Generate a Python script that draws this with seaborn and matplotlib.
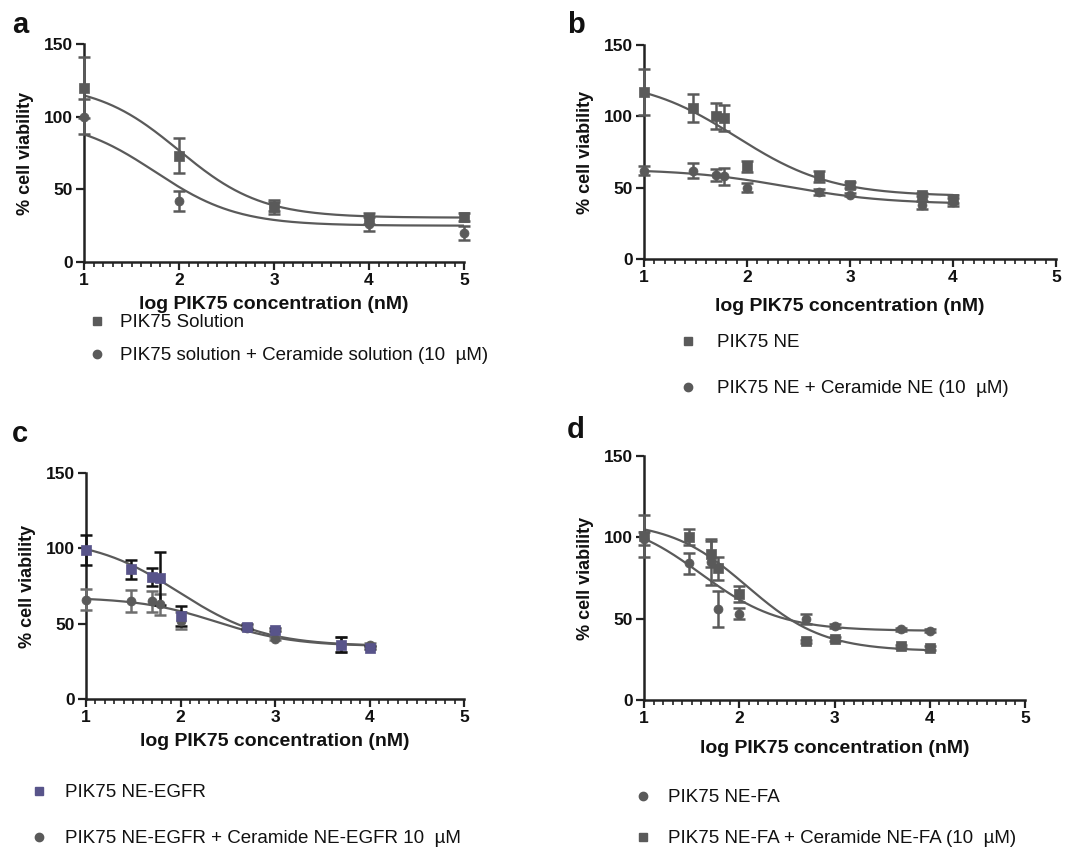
import numpy as np
import pandas as pd
import matplotlib
matplotlib.use("Agg")
import matplotlib.pyplot as plt
from matplotlib.ticker import MultipleLocator
from matplotlib.lines import Line2D
import seaborn as sns

sns.set_theme(style="ticks")
plt.rcParams['font.family'] = ['Liberation Sans', 'DejaVu Sans']

# ---------------- data ----------------
x_a = [1, 2, 3, 4, 5]
a_sol = [120, 73, 38, 30, 31]
a_sol_err = [21, 12, 5, 4, 3]
a_cer = [100, 42, 38, 26, 20]
a_cer_err = [12, 7, 3, 5, 5]
# fitted curve parameters: top, bottom, logIC50, hill slope
a_sol_fit = [123, 30.5, 2.0, 1.0]
a_cer_fit = [99, 25, 1.75, 1.0]

x_bcd = [1, 1.477, 1.699, 1.778, 2, 2.699, 3, 3.699, 4]

b_ne = [117, 106, 100, 99, 65, 58, 52, 45, 42]
b_ne_err = [16, 10, 9, 9, 4, 4, 2, 1, 3]
b_cer = [62, 62, 59, 58, 50, 47, 45, 38, 40]
b_cer_err = [3, 5, 4, 6, 3, 2, 1, 3, 3]
b_ne_fit = [127, 44, 1.9, 0.94]
b_cer_fit = [63, 38.5, 2.39, 0.89]

c_egfr = [99, 86, 81, 80, 55, 48, 46, 36, 34]
c_egfr_err = [10, 6.5, 6, 17.5, 6.5, 1.5, 1, 5, 1]
c_cer = [66, 65, 65, 63, 52, 47, 40, 36, 36]
c_cer_err = [7, 7.5, 7, 7, 5.5, 1, 1, 5, 1]
c_egfr_fit = [107, 35, 1.98, 0.95]
c_cer_fit = [67.5, 35, 2.38, 1.05]

d_fa = [99, 84, 85, 56, 53, 50, 45.5, 43.5, 42.5]
d_fa_err = [4, 6.5, 14, 11, 3.5, 3, 1, 1, 1]
d_cer = [101, 100, 90, 81, 65, 36, 37.5, 33, 32]
d_cer_err = [13, 5, 8, 7, 5, 1, 1, 1, 1]
d_fa_fit = [112.5, 42.5, 1.6, 1.05]
d_cer_fit = [110, 30, 2.08, 1.08]

labels_a = ["PIK75 Solution", "PIK75 solution + Ceramide solution (10  \u00b5M)"]
labels_b = ["PIK75 NE", "PIK75 NE + Ceramide NE (10  \u00b5M)"]
labels_c = ["PIK75 NE-EGFR", "PIK75 NE-EGFR + Ceramide NE-EGFR 10  \u00b5M"]
labels_d = ["PIK75 NE-FA", "PIK75 NE-FA + Ceramide NE-FA (10  \u00b5M)"]

x_ticks = [1, 2, 3, 4, 5]
y_ticks = [0, 50, 100, 150]

GRAY = "#5a5a5a"
PURPLE = "#58548a"

W, H = 1077, 850
fig = plt.figure(figsize=(W / 100, H / 100), dpi=100)


def fpos(l, t, r, b):
    return [l / W, 1 - b / H, (r - l) / W, (b - t) / H]


def four_pl(x, p):
    top, bottom, ec, h = p
    return bottom + (top - bottom) / (1 + 10 ** ((x - ec) * h))


def style_axes(ax, xpad=5):
    ax.set_xlim(1, 5)
    ax.set_ylim(0, 150)
    ax.set_xticks(x_ticks)
    ax.set_yticks(y_ticks)
    ax.xaxis.set_minor_locator(MultipleLocator(0.1))
    for s in ["top", "right"]:
        ax.spines[s].set_visible(False)
    for s in ["left", "bottom"]:
        ax.spines[s].set_linewidth(1.8)
        ax.spines[s].set_color("#222222")
    ax.tick_params(axis="both", which="major", length=6, width=1.6,
                   color="#222222", labelsize=12.5, pad=2)
    ax.tick_params(axis="x", which="minor", length=3.5, width=1.2, color="#222222")
    for lab in ax.get_xticklabels() + ax.get_yticklabels():
        lab.set_fontweight("bold")
        lab.set_color("#111111")
    ax.set_xlabel("log PIK75 concentration (nM)", fontsize=14,
                  fontweight="bold", color="#111111", labelpad=xpad)
    ax.set_ylabel("% cell viability", fontsize=13, fontweight="bold",
                  color="#111111", labelpad=7)
    ax.set_facecolor("white")


def draw_series(ax, x, y, err, fit, xmax, marker, mcolor, ecolor):
    xs = np.linspace(1, xmax, 200)
    sns.lineplot(x=xs, y=four_pl(xs, fit), ax=ax, color=GRAY, lw=1.6,
                 zorder=2)
    eb = ax.errorbar(x, y, yerr=err, fmt="none", ecolor=ecolor,
                     elinewidth=1.8, capsize=4.5, capthick=1.8, zorder=3)
    for art in list(eb.lines[1]) + list(eb.lines[2]):
        art.set_clip_on(False)
    sns.scatterplot(x=x, y=y, ax=ax, marker=marker, s=42, color=mcolor,
                    edgecolor=mcolor, linewidth=0.5, zorder=4, clip_on=False)


def add_legend(entries, left, top, spacing, pad):
    handles = [Line2D([], [], linestyle="none", marker=m, markersize=6,
                      color=c, markeredgecolor=c) for m, c, _ in entries]
    leg = fig.legend(handles, [t for _, _, t in entries], loc="upper left",
                     bbox_to_anchor=(left / W, 1 - top / H), frameon=False,
                     fontsize=13.5, handlelength=0.74, handletextpad=pad,
                     labelspacing=spacing, borderpad=0, borderaxespad=0)
    for t in leg.get_texts():
        t.set_color("#111111")


# panel a
ax_a = fig.add_axes(fpos(84, 44, 464, 262))
draw_series(ax_a, x_a, a_sol, a_sol_err, a_sol_fit, 5, "s", GRAY, GRAY)
draw_series(ax_a, x_a, a_cer, a_cer_err, a_cer_fit, 5, "o", GRAY, GRAY)
style_axes(ax_a, xpad=6)
add_legend([("s", GRAY, labels_a[0]), ("o", GRAY, labels_a[1])],
           90, 314, 0.85, 0.84)

# panel b
ax_b = fig.add_axes(fpos(644, 45, 1056, 259))
draw_series(ax_b, x_bcd, b_ne, b_ne_err, b_ne_fit, 4, "s", GRAY, GRAY)
draw_series(ax_b, x_bcd, b_cer, b_cer_err, b_cer_fit, 4, "o", GRAY, GRAY)
style_axes(ax_b, xpad=9)
add_legend([("s", GRAY, labels_b[0]), ("o", GRAY, labels_b[1])],
           681, 334, 1.55, 1.2)

# panel c
ax_c = fig.add_axes(fpos(86, 473, 464, 699))
draw_series(ax_c, x_bcd, c_cer, c_cer_err, c_cer_fit, 4, "o", GRAY, "#6e6e6e")
draw_series(ax_c, x_bcd, c_egfr, c_egfr_err, c_egfr_fit, 4, "s", PURPLE, "#111111")
style_axes(ax_c, xpad=6)
add_legend([("s", PURPLE, labels_c[0]), ("o", GRAY, labels_c[1])],
           32, 784, 1.55, 1.02)

# panel d
ax_d = fig.add_axes(fpos(644, 456, 1025, 700))
draw_series(ax_d, x_bcd, d_fa, d_fa_err, d_fa_fit, 4, "o", GRAY, GRAY)
draw_series(ax_d, x_bcd, d_cer, d_cer_err, d_cer_fit, 4, "s", GRAY, GRAY)
style_axes(ax_d, xpad=10)
add_legend([("o", GRAY, labels_d[0]), ("s", GRAY, labels_d[1])],
           636, 789, 1.28, 0.97)

for letter, (px, py) in zip("abcd", [(12, 25), (567, 25), (12, 434), (567, 430)]):
    fig.text(px / W, 1 - py / H, letter, fontsize=21, fontweight="bold",
             va="center", ha="left", color="#111111")

fig.savefig("out.png", dpi=100, facecolor="white")
